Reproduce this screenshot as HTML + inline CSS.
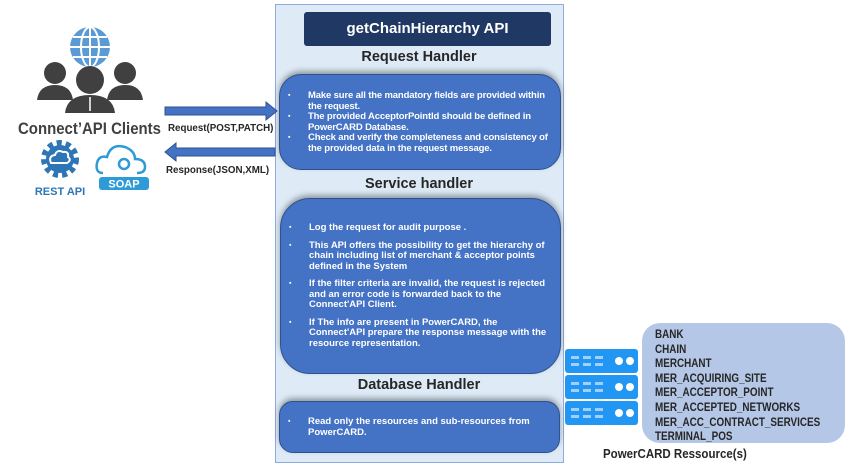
<!DOCTYPE html>
<html><head><style>
body{margin:0;width:848px;height:463px;background:#fff;position:relative;overflow:hidden;font-family:"Liberation Sans",Arial,sans-serif}
.a{position:absolute}
.box{position:absolute;background:#4472c4;border:1px solid #2f528f;border-radius:22px;box-shadow:0 -3px 6px rgba(0,0,0,.35);color:#fff;font-size:9.5px;font-weight:bold;line-height:10.5px}
.box ul{margin:0;padding:0;list-style:none}
.box li{position:relative;padding-left:28px}
.box li:before{content:"\25AA";position:absolute;left:8px;font-size:7px}
.h{position:absolute;width:288px;text-align:center;font-weight:bold;font-size:14.5px;color:#262626}
.n{transform-origin:0 0;white-space:nowrap}
</style></head><body>
<div class="a" style="left:275px;top:4px;width:287px;height:457px;background:#deebf7;border:1px solid #8faadc"></div>
<div class="a" style="left:304px;top:12px;width:247px;height:34px;background:#1f3864;border-radius:3px;color:#fff;font-weight:bold;font-size:15px;line-height:34px;text-align:center">getChainHierarchy API</div>
<div class="h" style="left:275px;top:49px">Request Handler</div>
<div class="box" style="left:279px;top:74px;width:280px;height:94px;letter-spacing:-0.15px"><ul style="padding-top:16px;padding-right:8px">
<li>Make sure all the mandatory fields are provided within the request.</li>
<li>The provided AcceptorPointId should be defined in PowerCARD Database.</li>
<li>Check and verify the completeness and consistency of the provided data in the request message.</li></ul></div>
<div class="h" style="left:275px;top:176px">Service handler</div>
<div class="box" style="left:280px;top:198px;width:279px;height:174px;border-radius:30px"><ul style="padding-top:24px;padding-right:12px">
<li style="margin-bottom:7px">Log the request for audit purpose .</li>
<li style="margin-bottom:7px">This API offers the possibility to get the hierarchy of chain including list of merchant &amp; acceptor points defined in the System</li>
<li style="margin-bottom:7px">If the filter criteria are invalid, the request is rejected and an error code is forwarded back to the Connect'API Client.</li>
<li>If The info are present in PowerCARD, the Connect'API prepare the response message with the resource representation.</li></ul></div>
<div class="h" style="left:275px;top:377px">Database Handler</div>
<div class="box" style="left:279px;top:401px;width:279px;height:50px;border-radius:14px"><ul style="padding-top:15px"><li>Read only the resources and sub-resources from PowerCARD.</li></ul></div>

<svg class="a" style="left:15px;top:25px" width="160" height="175">
<circle cx="75" cy="22" r="20" fill="#5b9bd5"/>
<g stroke="#fff" stroke-width="2" fill="none"><ellipse cx="75" cy="22" rx="9" ry="20"/><line x1="55" y1="22" x2="95" y2="22"/><line x1="75" y1="2" x2="75" y2="42"/><line x1="58" y1="12" x2="92" y2="12"/><line x1="58" y1="32" x2="92" y2="32"/></g>
<circle cx="40" cy="48" r="11" fill="#404040"/><path d="M22 75 Q24 60 40 60 Q56 60 58 75Z" fill="#404040"/>
<circle cx="110" cy="48" r="11" fill="#404040"/><path d="M92 75 Q94 60 110 60 Q126 60 128 75Z" fill="#404040"/>
<circle cx="75" cy="55" r="14" fill="#404040"/><path d="M50 88 Q52 70 75 70 Q98 70 100 88Z" fill="#404040"/>
<line x1="75" y1="72" x2="75" y2="86" stroke="#fff" stroke-width="1.5"/>
<circle cx="45" cy="134" r="16" fill="none" stroke="#2e75b6" stroke-width="6" stroke-dasharray="5 4"/>
<circle cx="45" cy="134" r="14" fill="#2e75b6"/>
<path d="M36 138 q-3 -7 4 -8 q2 -6 8 -3 q6 -1 5 5 q4 3 -1 6z" fill="none" stroke="#fff" stroke-width="2"/>
<path d="M88 148 q-8 0 -6 -10 q2 -8 10 -6 q4 -14 18 -10 q10 4 10 12 q10 0 10 8 q0 6 -8 6" fill="none" stroke="#2e9bd6" stroke-width="2.5"/>
<circle cx="109" cy="139" r="5" fill="none" stroke="#2e9bd6" stroke-width="2.5"/>
<rect x="84" y="152" width="50" height="13" rx="3" fill="#2e9bd6"/>
<text x="109" y="162.5" text-anchor="middle" font-size="11" font-weight="bold" fill="#fff" font-family="Liberation Sans">SOAP</text>
<text x="45" y="170" text-anchor="middle" font-size="11" font-weight="bold" fill="#2e75b6" font-family="Liberation Sans">REST API</text>
</svg>
<div class="a n" style="left:18px;top:119px;font-size:17px;font-weight:bold;color:#404040;transform:scaleX(0.88)">Connect’API Clients</div>
<svg class="a" style="left:160px;top:98px" width="120" height="70">
<polygon points="5,9 106,9 106,4 117,13 106,22 106,17 5,17" fill="#4472c4" stroke="#2f528f"/>
<polygon points="115,50 16,50 16,45 5,54 16,63 16,58 115,58" fill="#4472c4" stroke="#2f528f"/>
</svg>
<div class="a n" style="left:168px;top:122px;font-size:10.5px;font-weight:bold;color:#262626;transform:scaleX(0.93)">Request(POST,PATCH)</div>
<div class="a n" style="left:166px;top:164px;font-size:10.5px;font-weight:bold;color:#262626;transform:scaleX(0.93)">Response(JSON,XML)</div>

<svg class="a" style="left:565px;top:349px" width="74" height="78">
<g fill="#2196f3">
<rect x="0" y="0" width="73" height="24" rx="3"/><rect x="0" y="26" width="73" height="24" rx="3"/><rect x="0" y="52" width="73" height="24" rx="3"/></g>
<g fill="#9fd0ff">
<rect x="6" y="7" width="8" height="3"/><rect x="18" y="7" width="8" height="3"/><rect x="30" y="7" width="8" height="3"/><rect x="6" y="14" width="8" height="3"/><rect x="18" y="14" width="8" height="3"/><rect x="30" y="14" width="8" height="3"/>
<rect x="6" y="33" width="8" height="3"/><rect x="18" y="33" width="8" height="3"/><rect x="30" y="33" width="8" height="3"/><rect x="6" y="40" width="8" height="3"/><rect x="18" y="40" width="8" height="3"/><rect x="30" y="40" width="8" height="3"/>
<rect x="6" y="59" width="8" height="3"/><rect x="18" y="59" width="8" height="3"/><rect x="30" y="59" width="8" height="3"/><rect x="6" y="66" width="8" height="3"/><rect x="18" y="66" width="8" height="3"/><rect x="30" y="66" width="8" height="3"/></g>
<g fill="#fff"><circle cx="54" cy="12" r="4"/><circle cx="65" cy="12" r="4"/><circle cx="54" cy="38" r="4"/><circle cx="65" cy="38" r="4"/><circle cx="54" cy="64" r="4"/><circle cx="65" cy="64" r="4"/></g>
</svg>
<div class="a" style="left:642px;top:323px;width:203px;height:120px;background:#b4c7e7;border-radius:18px"></div>
<div class="a n" style="left:655px;top:328px;font-size:11.5px;font-weight:bold;color:#262626;line-height:14.6px;transform:scaleX(0.86)">BANK<br>CHAIN<br>MERCHANT<br>MER_ACQUIRING_SITE<br>MER_ACCEPTOR_POINT<br>MER_ACCEPTED_NETWORKS<br>MER_ACC_CONTRACT_SERVICES<br>TERMINAL_POS</div>
<div class="a n" style="left:603px;top:447px;font-size:12.5px;font-weight:bold;color:#262626;transform:scaleX(0.92)">PowerCARD Ressource(s)</div>
</body></html>
